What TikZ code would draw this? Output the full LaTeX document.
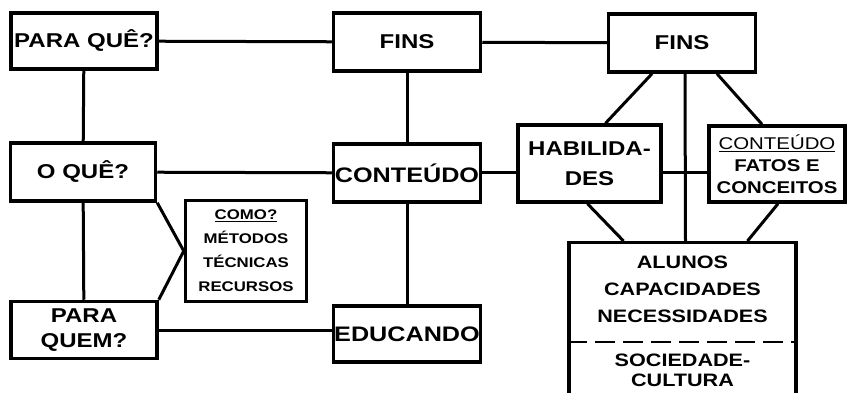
\documentclass[tikz,border=0pt]{standalone}
\usepackage{fontspec}
\setmainfont{Liberation Sans}[FakeStretch=1.2]
\begin{document}
\begin{tikzpicture}[x=1pt, y=-1pt, line width=3pt,
    main/.style = {draw, line width=3.5pt, inner sep=0pt, align=center, minimum width=147pt, minimum height=58pt, font=\bfseries\fontsize{20}{26}\selectfont},
    small/.style = {font=\bfseries\fontsize{14}{24}\selectfont},
    mid/.style = {font=\bfseries\fontsize{18}{27}\selectfont, align=center}]
    \useasboundingbox (0,0) rectangle (847,393);
    \clip (0,0) rectangle (847,393);
    % left column
    \node[main, minimum width=146pt, minimum height=56pt] (paraque) at (84,41) {PARA QUÊ?};
    \node[main, minimum width=145pt] (oque) at (83,172) {O QUÊ?};
    \node[main, minimum width=146pt, minimum height=57pt, font=\bfseries\fontsize{20}{25}\selectfont] (paraquem) at (84,330) {PARA\\QUEM?};
    \node[main, small, minimum width=121pt, minimum height=101pt] (como) at (246,251) {\underline{COMO?}\\MÉTODOS\\TÉCNICAS\\RECURSOS};
    % middle column
    \node[main] (finsA) at (407,42) {FINS};
    \node[main, font=\bfseries\fontsize{21}{26}\selectfont] (conteudo) at (407,173) {CONTEÚDO};
    \node[main, minimum height=56pt, font=\bfseries\fontsize{21}{26}\selectfont] (educando) at (407,334) {EDUCANDO};
    % right part
    \node[main] (finsB) at (682,43) {FINS};
    \node[main, minimum width=143pt, minimum height=77pt, font=\bfseries\fontsize{20}{30}\selectfont] (habil) at (589.5,163.5) {HABILIDA-\\DES};
    \node[main, minimum width=136pt, minimum height=76pt, font=\bfseries\fontsize{17}{22}\selectfont] (fatos) at (777,164) {\underline{\mdseries CONTEÚDO}\\FATOS E\\CONCEITOS};
    \node[main, minimum width=227pt, minimum height=200pt, anchor=north] (alunos) at (682.5,241) {};
    \node[mid] (alunostxt) at (682.5,289) {ALUNOS\\CAPACIDADES\\NECESSIDADES};
    \node[mid, font=\bfseries\fontsize{18}{20}\selectfont] (sociedade) at (682.5,370) {SOCIEDADE-\\CULTURA};
    \draw[line width=2.5pt, dash pattern=on 20pt off 8pt] (alunos.west |- 0,342) -- (alunos.east |- 0,342);
    % connectors
    \draw (paraque) -- (finsA);
    \draw (finsA) -- (finsB);
    \draw (paraque) -- (oque);
    \draw (finsA) -- (conteudo);
    \draw (oque) -- (conteudo);
    \draw (conteudo.east) -- (conteudo.east -| habil.west);
    \draw (habil.east |- conteudo.east) -- (fatos.west |- conteudo.east);
    \draw (oque) -- (paraquem);
    \draw (conteudo) -- (educando);
    \draw (paraquem.east) -- (paraquem.east -| educando.west);
    \draw (oque.south east) -- (como.west) -- (paraquem.north east);
    \draw ([xshift=-30pt]finsB.south) -- ([xshift=16pt]habil.north);
    \draw ([xshift=35pt]finsB.south) -- ([xshift=-15pt]fatos.north);
    \draw ([xshift=3pt]finsB.south) -- ([xshift=3pt]alunos.north);
    \draw ([xshift=-2pt]habil.south) -- ([xshift=-59pt]alunos.north);
    \draw ([xshift=1pt]fatos.south) -- ([xshift=65pt]alunos.north);
\end{tikzpicture}
\end{document}
